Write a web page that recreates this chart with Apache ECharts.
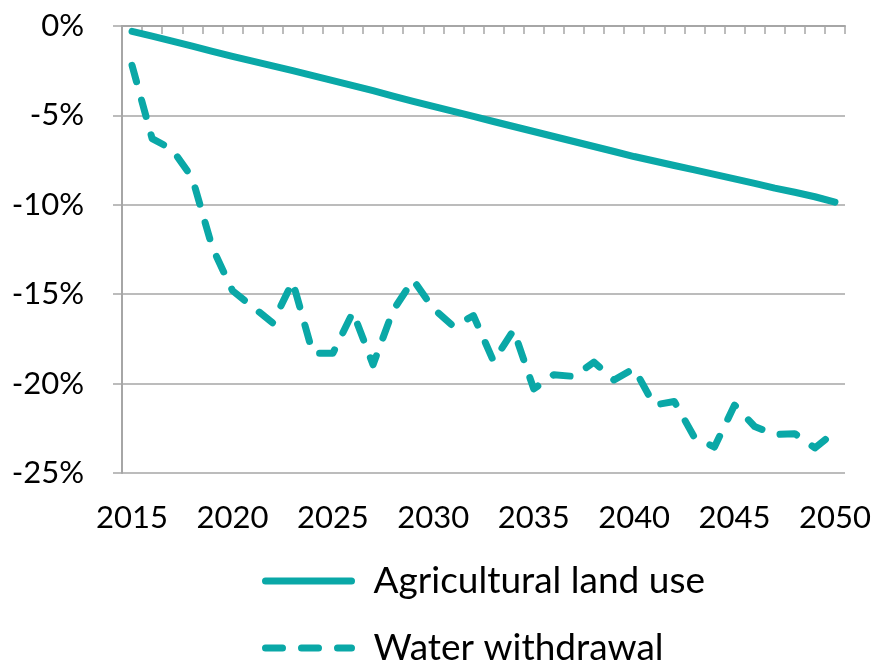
<!DOCTYPE html>
<html>
<head>
<meta charset="utf-8">
<title>Agricultural land use and water withdrawal</title>
<script src="https://cdn.jsdelivr.net/npm/echarts@6/dist/echarts.min.js"></script>
<style>
  html, body { margin: 0; padding: 0; background: #ffffff; }
  #chart { width: 877px; height: 661px; }
</style>
</head>
<body>
<div id="chart"></div>
<script>
// Years on the category axis
const years = [
  '2015','2016','2017','2018','2019','2020','2021','2022','2023','2024',
  '2025','2026','2027','2028','2029','2030','2031','2032','2033','2034',
  '2035','2036','2037','2038','2039','2040','2041','2042','2043','2044',
  '2045','2046','2047','2048','2049','2050'
];

// Change relative to baseline, in percent
const agriculturalLandUse = [
  -0.30, -0.57, -0.85, -1.13, -1.42, -1.70, -1.96, -2.23, -2.50, -2.78,
  -3.05, -3.33, -3.62, -3.92, -4.21, -4.50, -4.78, -5.06, -5.34, -5.62,
  -5.90, -6.18, -6.46, -6.74, -7.02, -7.30, -7.55, -7.80, -8.05, -8.30,
  -8.55, -8.80, -9.07, -9.30, -9.55, -9.85
];

const waterWithdrawal = [
  -2.2, -6.3, -6.9, -8.5, -12.4, -14.8, -15.7, -16.6, -14.3, -18.3,
  -18.3, -16.0, -18.95, -15.9, -14.2, -15.8, -16.8, -16.2, -18.75, -17.0,
  -20.3, -19.5, -19.6, -18.8, -19.8, -19.15, -21.2, -21.0, -23.0, -23.55,
  -21.2, -22.4, -22.85, -22.8, -23.6, -22.7
];

const seriesNames = ['Agricultural land use', 'Water withdrawal'];

// Value axis range and step (percent)
const yMin = -25;
const yMax = 0;
const yStep = 5;

const teal = '#0aa8a7';
const gridGrey = '#a6a6a6';
const fontFamily = 'Lato, "Open Sans", sans-serif';
const dashPattern = [17, 19];

// One legend block per series, stacked under the plot
function legendBlock(name, top, lineType) {
  return {
    orient: 'vertical',
    left: 262,
    top: top,
    padding: 0,
    itemWidth: 86,
    itemHeight: 14,
    data: [name],
    itemStyle: { color: 'transparent', borderColor: 'transparent', borderWidth: 0 },
    lineStyle: { color: teal, width: 7, type: lineType, cap: 'round' },
    textStyle: {
      fontFamily: fontFamily,
      fontSize: 37,
      lineHeight: 40,
      color: '#000000',
      padding: [0, 0, 0, 17]
    }
  };
}

const chart = echarts.init(document.getElementById('chart'), null, { renderer: 'canvas' });

chart.setOption({
  animation: false,
  backgroundColor: '#ffffff',
  grid: { left: 122, right: 32, top: 26, bottom: 188, containLabel: false },
  legend: [
    legendBlock(seriesNames[0], 561, 'solid'),
    legendBlock(seriesNames[1], 628, dashPattern)
  ],
  xAxis: [
    {
      type: 'category',
      data: years,
      position: 'bottom',
      boundaryGap: true,
      axisLine: { show: false },
      axisTick: { show: false },
      axisLabel: {
        interval: 4,
        margin: 29,
        fontFamily: fontFamily,
        fontSize: 31,
        color: '#000000'
      },
      splitLine: { show: false }
    },
    {
      type: 'category',
      data: years,
      position: 'top',
      boundaryGap: true,
      axisLine: { show: true, lineStyle: { color: gridGrey, width: 2 } },
      axisTick: {
        show: true,
        inside: true,
        interval: 0,
        length: 8,
        lineStyle: { color: gridGrey, width: 1.5 }
      },
      axisLabel: { show: false },
      splitLine: { show: false }
    }
  ],
  yAxis: {
    type: 'value',
    min: yMin,
    max: yMax,
    interval: yStep,
    axisLine: { show: true, onZero: false, lineStyle: { color: gridGrey, width: 2 } },
    axisTick: { show: true, inside: false, length: 9, lineStyle: { color: gridGrey, width: 1.5 } },
    axisLabel: {
      margin: 38,
      fontFamily: fontFamily,
      fontSize: 31,
      color: '#000000',
      formatter: '{value}%'
    },
    splitLine: { show: true, lineStyle: { color: gridGrey, width: 1.5 } }
  },
  series: [
    {
      name: seriesNames[0],
      type: 'line',
      xAxisIndex: 0,
      data: agriculturalLandUse,
      showSymbol: false,
      symbol: 'none',
      lineStyle: { color: teal, width: 7, cap: 'round', join: 'round' },
      itemStyle: { color: teal }
    },
    {
      name: seriesNames[1],
      type: 'line',
      xAxisIndex: 0,
      data: waterWithdrawal,
      showSymbol: false,
      symbol: 'none',
      lineStyle: { color: teal, width: 7, type: dashPattern, cap: 'round', join: 'round' },
      itemStyle: { color: teal }
    }
  ]
});
</script>
</body>
</html>
